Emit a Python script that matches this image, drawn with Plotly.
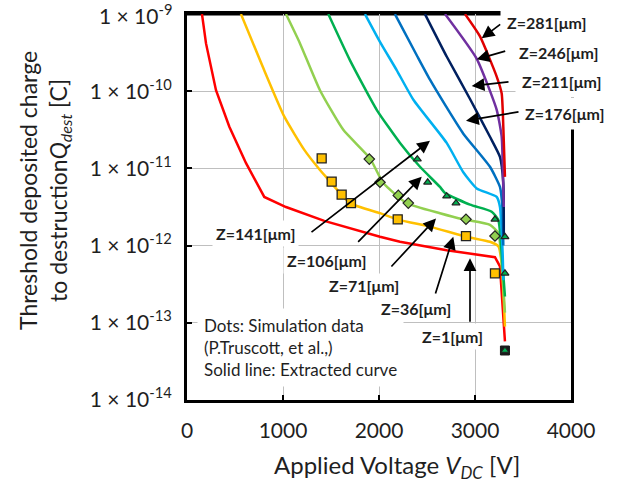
import plotly.graph_objects as go

# ---------------- data ----------------
z_labels = ["Z=1[μm]", "Z=36[μm]", "Z=71[μm]", "Z=106[μm]", "Z=141[μm]",
            "Z=176[μm]", "Z=211[μm]", "Z=246[μm]", "Z=281[μm]"]
curve_colors = ["#FF0000", "#FFC000", "#92D050", "#00B050", "#00B0F0",
                "#0070C0", "#002060", "#7030A0", "#E00000"]

v_z1 = [156, 198, 302, 441, 615, 805, 1031, 1430, 2010, 2219, 2705, 3018, 3208, 3260, 3278, 3312]
q_z1 = [1e-9, 4.17e-10, 1.03e-10, 3.47e-11, 1.17e-11, 4.27e-12, 3.16e-12, 2.09e-12,
        1.30e-12, 1.12e-12, 8.7e-13, 7.76e-13, 7.08e-13, 5.37e-13, 2.19e-13, 5.75e-14]

v_z36 = [562, 788, 1014, 1222, 1385, 1448, 1698, 2010, 2219, 2531, 2913, 3156, 3243, 3278, 3312]
q_z36 = [1e-9, 2.09e-10, 4.68e-11, 1.74e-11, 9.55e-12, 7.76e-12, 3.55e-12, 2.63e-12,
         2.14e-12, 1.76e-12, 1.30e-12, 1.12e-12, 9.77e-13, 5.89e-13, 8.91e-14]

v_z71 = [1031, 1177, 1385, 1628, 1906, 2045, 2288, 2635, 2878, 3156, 3243, 3278, 3312]
q_z71 = [1e-9, 4.17e-10, 1.03e-10, 3.16e-11, 1.35e-11, 6.46e-12, 3.55e-12, 2.63e-12,
         2.19e-12, 1.86e-12, 1.45e-12, 5.89e-13, 1.35e-13]

v_z106 = [1472, 1698, 1976, 2219, 2427, 2635, 2688, 2948, 3174, 3243, 3278, 3312]
q_z106 = [1e-9, 2.51e-10, 5.75e-11, 2.14e-11, 1.05e-11, 5.75e-12, 4.79e-12, 3.39e-12,
          2.75e-12, 2.14e-12, 7.94e-13, 2.19e-13]

v_z141 = [1854, 2010, 2184, 2358, 2705, 2878, 3018, 3226, 3260, 3288, 3295]
q_z141 = [1e-9, 4.37e-10, 1.88e-10, 7.76e-11, 2.14e-11, 8.91e-12, 5.50e-12, 4.27e-12,
          3.16e-12, 7.94e-13, 3.55e-13]

v_z176 = [2166, 2400, 2531, 2700, 2878, 3156, 3260, 3285, 3295]
q_z176 = [1e-9, 2.82e-10, 1.41e-10, 6.31e-11, 2.82e-11, 1.05e-11, 5.75e-12, 3.16e-12, 1.0e-12]

v_z211 = [2479, 2705, 2948, 3156, 3260, 3295, 3300]
q_z211 = [1e-9, 2.82e-10, 7.94e-11, 2.57e-11, 1.41e-11, 6.46e-12, 1.26e-12]

v_z246 = [2688, 3018, 3226, 3278, 3295, 3300]
q_z246 = [1e-9, 2.63e-10, 5.75e-11, 2.57e-11, 5.25e-12, 3.16e-12]

v_z281 = [2896, 3052, 3226, 3278, 3295, 3312]
q_z281 = [1e-9, 5.13e-10, 1.55e-10, 9.33e-11, 3.47e-11, 7.76e-12]

curves_v = [v_z1, v_z36, v_z71, v_z106, v_z141, v_z176, v_z211, v_z246, v_z281]
curves_q = [q_z1, q_z36, q_z71, q_z106, q_z141, q_z176, q_z211, q_z246, q_z281]

# simulation dots (P.Truscott et al.)
sq_v = [1403, 1507, 1611, 1708, 2195, 2906, 3208]
sq_q = [1.35e-11, 6.76e-12, 4.57e-12, 3.55e-12, 2.19e-12, 1.33e-12, 4.37e-13]

dia_v = [1899, 2010, 2201, 2305, 2906, 3208]
dia_q = [1.32e-11, 6.61e-12, 4.47e-12, 3.55e-12, 2.19e-12, 1.33e-12]

tri_v = [2399, 2507, 2705, 2802, 3208, 3312, 3312, 3312]
tri_q = [1.32e-11, 6.61e-12, 4.37e-12, 3.55e-12, 2.19e-12, 1.30e-12, 4.37e-13, 4.37e-14]

overlap_v = [3312]
overlap_q = [4.37e-14]

x_ticks = [0, 1000, 2000, 3000, 4000]
y_tickvals = [1e-9, 1e-10, 1e-11, 1e-12, 1e-13, 1e-14]
y_ticktext = ["1 × 10<sup>-9</sup>", "1 × 10<sup>-10</sup>", "1 × 10<sup>-11</sup>",
              "1 × 10<sup>-12</sup>", "1 × 10<sup>-13</sup>", "1 × 10<sup>-14</sup>"]

# ---------------- layout geometry ----------------
W, H = 622, 484
L, R, T, B = 187, 571, 14, 400
FONT = "Lato"
TXT = "#1f1f1f"


def fx(px):
    return (px - L) / (R - L)


def fy(py):
    return (B - py) / (B - T)


fig = go.Figure()

for i, (v, q, c, name) in enumerate(zip(curves_v, curves_q, curve_colors, z_labels)):
    shape = "linear" if i == 0 else "spline"
    fig.add_trace(go.Scatter(x=v, y=q, mode="lines", name=name,
                             line=dict(color=c, width=2.5, shape=shape, smoothing=0.5)))

fig.add_trace(go.Scatter(x=sq_v, y=sq_q, mode="markers", name="sim squares",
                         marker=dict(symbol="square", size=9, color="#FFC000",
                                     line=dict(color="#222222", width=1.3))))
fig.add_trace(go.Scatter(x=dia_v, y=dia_q, mode="markers", name="sim diamonds",
                         marker=dict(symbol="diamond", size=8, color="#92D050",
                                     line=dict(color="#222222", width=1.2))))
fig.add_trace(go.Scatter(x=overlap_v, y=overlap_q, mode="markers", name="overlap",
                         marker=dict(symbol="square", size=9, color="#1a1a1a",
                                     line=dict(color="#1a1a1a", width=1))))
fig.add_trace(go.Scatter(x=tri_v, y=tri_q, mode="markers", name="sim triangles",
                         marker=dict(symbol="triangle-up", size=7, color="#00B050",
                                     line=dict(color="#222222", width=1.2))))

annotations = []

# note box first, so labels are drawn above it
annotations.append(dict(xref="paper", yref="paper", x=fx(197), y=fy(347),
                        xanchor="left", yanchor="middle", align="left",
                        text="Dots: Simulation data<br>(P.Truscott, et al.,)<br>Solid line: Extracted curve",
                        showarrow=False, bgcolor="white", borderpad=6,
                        font=dict(family=FONT, size=17, color=TXT)))

# arrows: (tail px, tail py, head px, head py)
arrows = [
    (501.7, 23.3, 481.7, 38.3),
    (506.7, 50.7, 476.7, 59.3),
    (510.0, 81.7, 471.7, 86.0),
    (520.0, 111.7, 466.0, 120.7),
    (310.0, 233.3, 430.0, 140.7),
    (356.7, 243.3, 421.7, 176.7),
    (390.0, 268.0, 436.0, 218.5),
    (435.0, 295.0, 453.3, 236.7),
    (470.0, 323.3, 470.0, 258.3),
]

# labels: text, center px, center py, pad
label_pos = [
    ("Z=281[μm]", 546, 23, 6),
    ("Z=246[μm]", 558, 52, 6),
    ("Z=211[μm]", 561, 82, 6),
    ("Z=176[μm]", 564, 113, 6),
    ("Z=141[μm]", 255, 233, 3),
    ("Z=106[μm]", 326, 260, 3),
    ("Z=1[μm]", 452, 336, 3),
    ("Z=71[μm]", 364, 285, 2),
    ("Z=36[μm]", 416, 308, 2),
]
for txt, cx, cy, pad in label_pos:
    annotations.append(dict(xref="paper", yref="paper", x=fx(cx), y=fy(cy),
                            xanchor="center", yanchor="middle",
                            text="<b>" + txt + "</b>", showarrow=False,
                            bgcolor="white", borderpad=pad,
                            font=dict(family=FONT, size=16, color=TXT)))

for tx, ty, hx, hy in arrows:
    annotations.append(dict(xref="paper", yref="paper", x=fx(hx), y=fy(hy),
                            ax=tx - hx, ay=ty - hy, axref="pixel", ayref="pixel",
                            text="", showarrow=True, arrowhead=2, arrowsize=1.5,
                            arrowwidth=1.7, arrowcolor="black"))

annotations.append(dict(xref="paper", yref="paper", x=fx(44), y=fy(191),
                        xanchor="center", yanchor="middle", textangle=-90,
                        text="Threshold deposited charge<br>to destruction<i>Q<sub>dest</sub></i> [C]",
                        showarrow=False,
                        font=dict(family=FONT, size=23, color=TXT)))

annotations.append(dict(xref="paper", yref="paper", x=fx(397), y=fy(466),
                        xanchor="center", yanchor="middle",
                        text="Applied Voltage <i>V<sub>DC</sub></i> [V]",
                        showarrow=False,
                        font=dict(family=FONT, size=24, color=TXT)))

# top tick label written explicitly (plotly drops it at the range edge)
annotations.append(dict(xref="paper", yref="y", x=fx(L - 13), y=-9,
                        xanchor="right", yanchor="middle", showarrow=False,
                        text=y_ticktext[0],
                        font=dict(family=FONT, size=21, color=TXT)))

fig.update_layout(
    width=W, height=H,
    margin=dict(l=L, r=W - R, t=T, b=H - B, pad=0),
    paper_bgcolor="white", plot_bgcolor="white",
    showlegend=False,
    annotations=annotations,
    font=dict(family=FONT, color=TXT),
    shapes=[dict(type="line", xref="paper", yref="paper", x0=0, x1=1, y0=1, y1=1,
                 line=dict(color="black", width=3), layer="below")],
)
fig.update_xaxes(range=[0, 4000], tickvals=x_ticks, ticks="inside", ticklen=5,
                 tickwidth=2, tickcolor="black", ticklabelstandoff=10,
                 showline=True, linecolor="black", linewidth=3, mirror=True,
                 showgrid=True, gridcolor="#BFBFBF", gridwidth=1, zeroline=False,
                 tickfont=dict(family=FONT, size=21, color=TXT))
fig.update_yaxes(type="log", range=[-14.001, -8.999], tickvals=y_tickvals[1:], ticktext=y_ticktext[1:],
                 ticks="inside", ticklen=5, tickwidth=2, tickcolor="black",
                 ticklabelstandoff=8,
                 showline=True, linecolor="black", linewidth=3, mirror=True,
                 showgrid=True, gridcolor="#BFBFBF", gridwidth=1, zeroline=False,
                 tickfont=dict(family=FONT, size=21, color=TXT))

fig.write_html("out.html")
